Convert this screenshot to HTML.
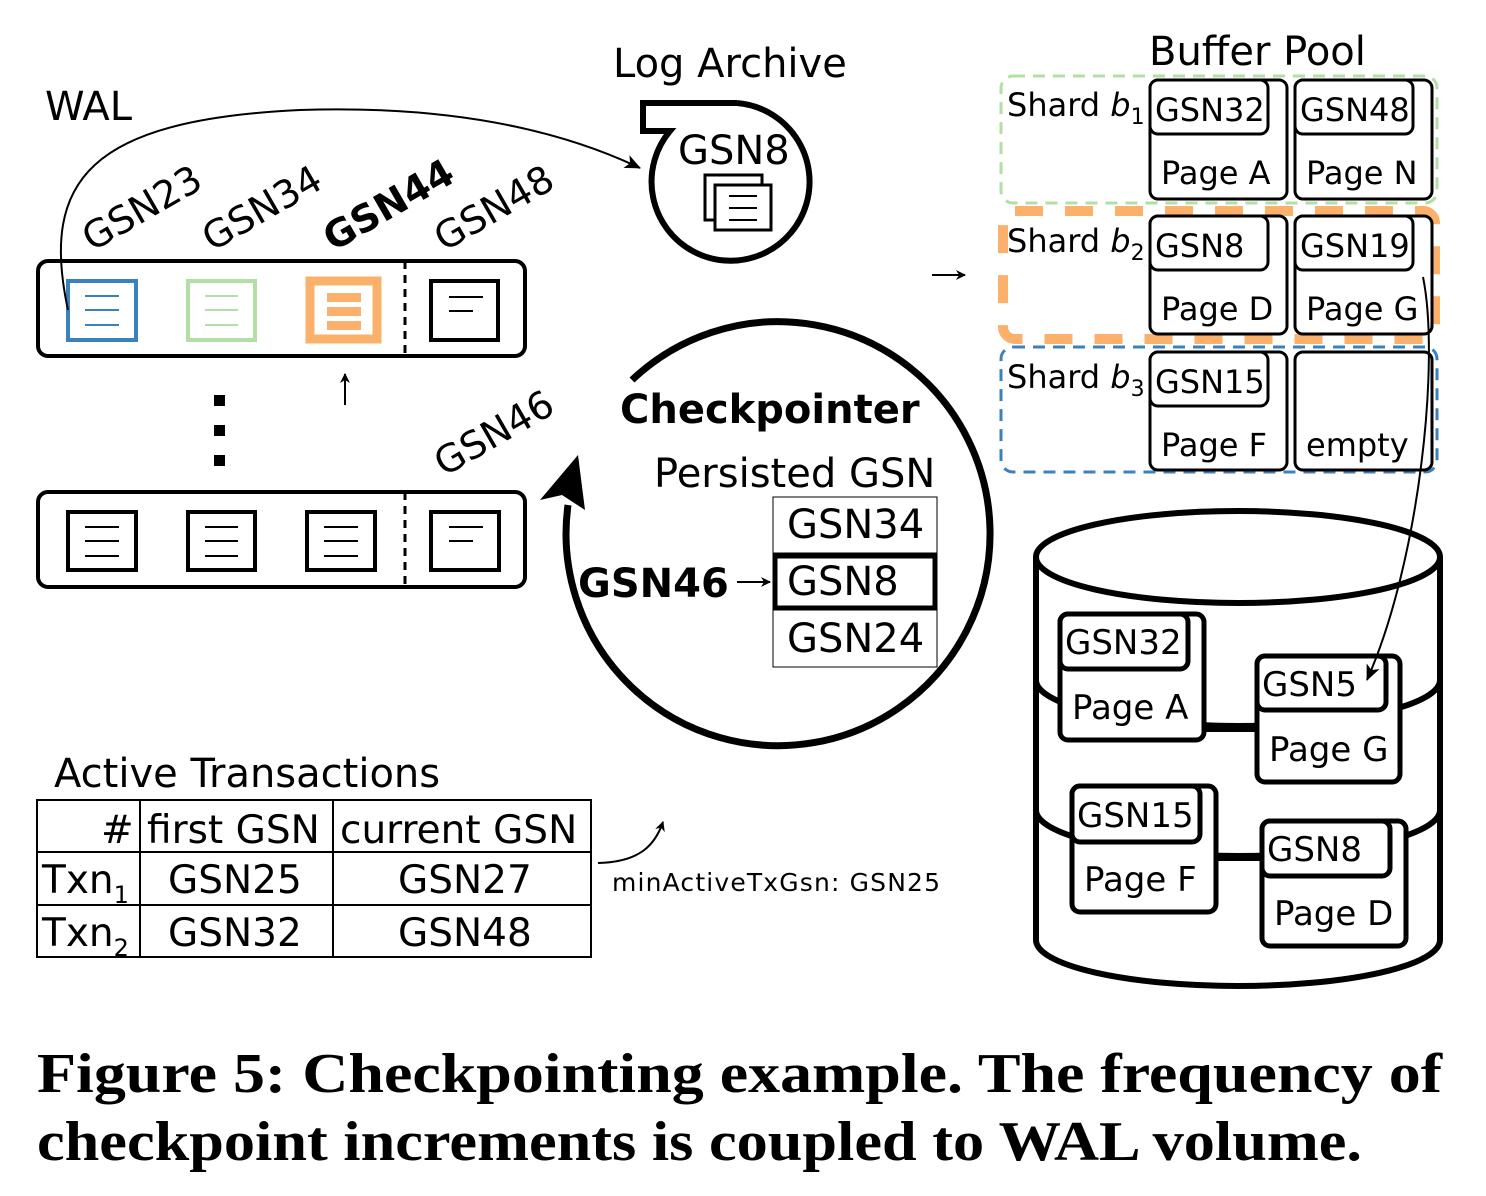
<!DOCTYPE html>
<html><head><style>
body{margin:0;background:#fff;}
svg{display:block;}
text{font-family:"DejaVu Sans","Liberation Sans",sans-serif;}
.cap{font-family:"Liberation Serif",serif;font-weight:bold;font-size:56px;}
</style></head><body>
<svg width="1486" height="1196" viewBox="0 0 1486 1196" xmlns="http://www.w3.org/2000/svg">
<defs>
<marker id="ah" markerWidth="10" markerHeight="10" refX="9" refY="5" orient="auto" markerUnits="userSpaceOnUse"><path d="M0,0 L10,5 L0,10 L3,5Z" fill="#000"/></marker>
<marker id="ah2" markerWidth="16" markerHeight="16" refX="15" refY="8" orient="auto" markerUnits="userSpaceOnUse"><path d="M0,1 L16,8 L0,15 L4,8Z" fill="#000"/></marker>
</defs>
<g font-size="40">
<text x="45" y="120">WAL</text>
<text x="613" y="77">Log Archive</text>
<text x="1149" y="65">Buffer Pool</text>
</g>
<g font-size="38">
<text transform="translate(92,252) rotate(-30)">GSN23</text>
<text transform="translate(212,252) rotate(-30)">GSN34</text>
<text transform="translate(333,252) rotate(-30)" font-weight="bold">GSN44</text>
<text transform="translate(444,252) rotate(-30)">GSN48</text>
<text transform="translate(444,477) rotate(-30)">GSN46</text>
</g>
<rect x="38" y="261" width="487" height="95" rx="10" fill="none" stroke="#000" stroke-width="4"/>
<line x1="405" y1="261" x2="405" y2="356" stroke="#000" stroke-width="3" stroke-dasharray="8,6"/>
<rect x="68" y="281" width="68" height="59" fill="none" stroke="#3a82be" stroke-width="4"/>
<g stroke="#3a82be" stroke-width="2"><line x1="85" y1="296" x2="119" y2="296"/><line x1="85" y1="310" x2="119" y2="310"/><line x1="85" y1="325" x2="119" y2="325"/></g>
<rect x="188" y="281" width="67" height="59" fill="none" stroke="#b2dfa6" stroke-width="4"/>
<g stroke="#b2dfa6" stroke-width="2"><line x1="205" y1="296" x2="238" y2="296"/><line x1="205" y1="310" x2="238" y2="310"/><line x1="205" y1="325" x2="238" y2="325"/></g>
<rect x="310" y="281" width="67" height="58" fill="none" stroke="#fbb06b" stroke-width="9"/>
<g fill="#fbb06b"><rect x="327" y="293" width="34" height="9"/><rect x="327" y="307" width="34" height="9"/><rect x="327" y="321" width="34" height="9"/></g>
<rect x="431" y="281" width="67" height="59" fill="none" stroke="#000" stroke-width="4"/>
<g stroke="#000" stroke-width="2"><line x1="449" y1="297" x2="483" y2="297"/><line x1="449" y1="311" x2="473" y2="311"/></g>
<path d="M68,310 C40,180 90,120 300,110 C450,105 560,130 640,168" fill="none" stroke="#000" stroke-width="2" marker-end="url(#ah2)"/>
<g fill="#000"><rect x="214" y="395" width="11" height="11"/><rect x="214" y="425" width="11" height="11"/><rect x="214" y="455" width="11" height="11"/></g>
<line x1="345" y1="405" x2="345" y2="374" stroke="#000" stroke-width="2" marker-end="url(#ah)"/>
<rect x="38" y="492" width="487" height="95" rx="10" fill="none" stroke="#000" stroke-width="4"/>
<line x1="405" y1="492" x2="405" y2="587" stroke="#000" stroke-width="3" stroke-dasharray="8,6"/>
<g fill="none" stroke="#000" stroke-width="4">
<rect x="68" y="512" width="68" height="58"/><rect x="188" y="512" width="67" height="58"/><rect x="307" y="512" width="68" height="58"/><rect x="431" y="512" width="68" height="58"/></g>
<g stroke="#000" stroke-width="2">
<line x1="85" y1="527" x2="119" y2="527"/><line x1="85" y1="541" x2="119" y2="541"/><line x1="85" y1="556" x2="119" y2="556"/>
<line x1="205" y1="527" x2="238" y2="527"/><line x1="205" y1="541" x2="238" y2="541"/><line x1="205" y1="556" x2="238" y2="556"/>
<line x1="324" y1="527" x2="358" y2="527"/><line x1="324" y1="541" x2="358" y2="541"/><line x1="324" y1="556" x2="358" y2="556"/>
<line x1="449" y1="527" x2="483" y2="527"/><line x1="449" y1="541" x2="473" y2="541"/></g>
<path d="M737,103 L643,103 L643,131 L670,131 A79,79 0 1 0 737,103" fill="none" stroke="#000" stroke-width="6"/>
<text x="678" y="164" font-size="40">GSN8</text>
<rect x="705" y="175" width="57" height="45" fill="#fff" stroke="#000" stroke-width="3"/>
<rect x="715" y="185" width="56" height="45" fill="#fff" stroke="#000" stroke-width="3"/>
<g stroke="#000" stroke-width="2"><line x1="729" y1="196" x2="757" y2="196"/><line x1="729" y1="208" x2="757" y2="208"/><line x1="729" y1="220" x2="757" y2="220"/></g>
<path d="M632,380 A212,212 0 1 1 568,505" fill="none" stroke="#000" stroke-width="7"/>
<path d="M578,455 L540,500 L562,495 L585,510 Z" fill="#000"/>
<text x="620" y="423" font-size="40" font-weight="bold">Checkpointer</text>
<text x="654" y="487" font-size="40">Persisted GSN</text>
<rect x="773" y="497" width="164" height="170" fill="none" stroke="#000" stroke-width="1"/>
<line x1="773" y1="553" x2="937" y2="553" stroke="#000" stroke-width="1"/>
<line x1="773" y1="610" x2="937" y2="610" stroke="#000" stroke-width="1"/>
<rect x="775" y="556" width="160" height="52" fill="none" stroke="#000" stroke-width="5"/>
<g font-size="40"><text x="787" y="538">GSN34</text><text x="787" y="595">GSN8</text><text x="787" y="652">GSN24</text></g>
<text x="578" y="597" font-size="40" font-weight="bold">GSN46</text>
<line x1="737" y1="582" x2="770" y2="582" stroke="#000" stroke-width="2" marker-end="url(#ah)"/>
<text x="54" y="787" font-size="40">Active Transactions</text>
<g fill="none" stroke="#000" stroke-width="2">
<rect x="37" y="800" width="554" height="157"/>
<line x1="37" y1="852" x2="591" y2="852"/><line x1="37" y1="905" x2="591" y2="905"/>
<line x1="140" y1="800" x2="140" y2="957"/><line x1="333" y1="800" x2="333" y2="957"/></g>
<g font-size="39">
<text x="101" y="843">#</text><text x="147" y="843">first GSN</text><text x="340" y="843">current GSN</text>
<text x="42" y="893">Txn<tspan font-size="24" dy="10">1</tspan></text><text x="168" y="893">GSN25</text><text x="398" y="893">GSN27</text>
<text x="42" y="946">Txn<tspan font-size="24" dy="10">2</tspan></text><text x="168" y="946">GSN32</text><text x="398" y="946">GSN48</text>
</g>
<path d="M598,863 C640,862 655,845 663,822" fill="none" stroke="#000" stroke-width="2" marker-end="url(#ah)"/>
<text x="612" y="891" font-size="25" textLength="328">minActiveTxGsn: GSN25</text>
<line x1="932" y1="275" x2="965" y2="275" stroke="#000" stroke-width="2" marker-end="url(#ah)"/>
<rect x="1001" y="76" width="436" height="127" rx="12" fill="none" stroke="#b2dfa6" stroke-width="3" stroke-dasharray="12,8"/>
<rect x="1003" y="211" width="432" height="128" rx="12" fill="none" stroke="#fbb06b" stroke-width="10" stroke-dasharray="28,22"/>
<rect x="1001" y="347" width="436" height="125" rx="12" fill="none" stroke="#3a82be" stroke-width="3" stroke-dasharray="12,8"/>
<g font-size="32">
<text x="1007" y="116">Shard <tspan font-style="italic">b</tspan><tspan font-size="22" dy="8">1</tspan></text>
<text x="1007" y="252">Shard <tspan font-style="italic">b</tspan><tspan font-size="22" dy="8">2</tspan></text>
<text x="1007" y="388">Shard <tspan font-style="italic">b</tspan><tspan font-size="22" dy="8">3</tspan></text>
</g>
<g fill="#fff" stroke="#000" stroke-width="3">
<rect x="1150" y="80" width="137" height="119" rx="8"/><rect x="1150" y="80" width="118" height="54" rx="8"/>
<rect x="1295" y="80" width="137" height="119" rx="8"/><rect x="1295" y="80" width="118" height="54" rx="8"/>
<rect x="1150" y="216" width="137" height="118" rx="8"/><rect x="1150" y="216" width="118" height="54" rx="8"/>
<rect x="1295" y="216" width="137" height="118" rx="8"/><rect x="1295" y="216" width="118" height="54" rx="8"/>
<rect x="1150" y="352" width="137" height="118" rx="8"/><rect x="1150" y="352" width="118" height="54" rx="8"/>
<rect x="1295" y="352" width="137" height="118" rx="8"/>
</g>
<g font-size="32">
<text x="1155" y="121">GSN32</text><text x="1300" y="121">GSN48</text>
<text x="1161" y="184">Page A</text><text x="1306" y="184">Page N</text>
<text x="1155" y="257">GSN8</text><text x="1300" y="257">GSN19</text>
<text x="1161" y="320">Page D</text><text x="1306" y="320">Page G</text>
<text x="1155" y="393">GSN15</text>
<text x="1161" y="456">Page F</text><text x="1306" y="456">empty</text>
</g>
<g fill="none" stroke="#000" stroke-width="6">
<ellipse cx="1238" cy="557" rx="202" ry="46"/>
<line x1="1036" y1="557" x2="1036" y2="940"/><line x1="1440" y1="557" x2="1440" y2="940"/>
<path d="M1036,940 A202,46 0 0 0 1440,940"/>
<path d="M1036,680 A202,46 0 0 0 1440,680"/>
<path d="M1036,810 A202,46 0 0 0 1440,810"/>
</g>
<line x1="1204" y1="729" x2="1257" y2="729" stroke="#000" stroke-width="6"/>
<line x1="1216" y1="858" x2="1262" y2="858" stroke="#000" stroke-width="6"/>
<g fill="#fff" stroke="#000" stroke-width="5">
<rect x="1060" y="614" width="144" height="126" rx="8"/><rect x="1060" y="614" width="128" height="55" rx="8"/>
<rect x="1257" y="656" width="143" height="126" rx="8"/><rect x="1257" y="656" width="129" height="54" rx="8"/>
<rect x="1072" y="786" width="144" height="126" rx="8"/><rect x="1072" y="786" width="128" height="56" rx="8"/>
<rect x="1262" y="821" width="144" height="125" rx="8"/><rect x="1262" y="821" width="128" height="55" rx="8"/>
</g>
<g font-size="34">
<text x="1065" y="654">GSN32</text><text x="1072" y="719">Page A</text>
<text x="1262" y="696">GSN5</text><text x="1269" y="761">Page G</text>
<text x="1077" y="827">GSN15</text><text x="1084" y="891">Page F</text>
<text x="1267" y="861">GSN8</text><text x="1274" y="925">Page D</text>
</g>
<path d="M1423,277 C1440,360 1420,560 1367,680" fill="none" stroke="#000" stroke-width="2" marker-end="url(#ah2)"/>
<text class="cap" x="37" y="1092" textLength="1405" lengthAdjust="spacingAndGlyphs">Figure 5: Checkpointing example. The frequency of</text>
<text class="cap" x="37" y="1160" textLength="1325" lengthAdjust="spacingAndGlyphs">checkpoint increments is coupled to WAL volume.</text>
</svg>
</body></html>
